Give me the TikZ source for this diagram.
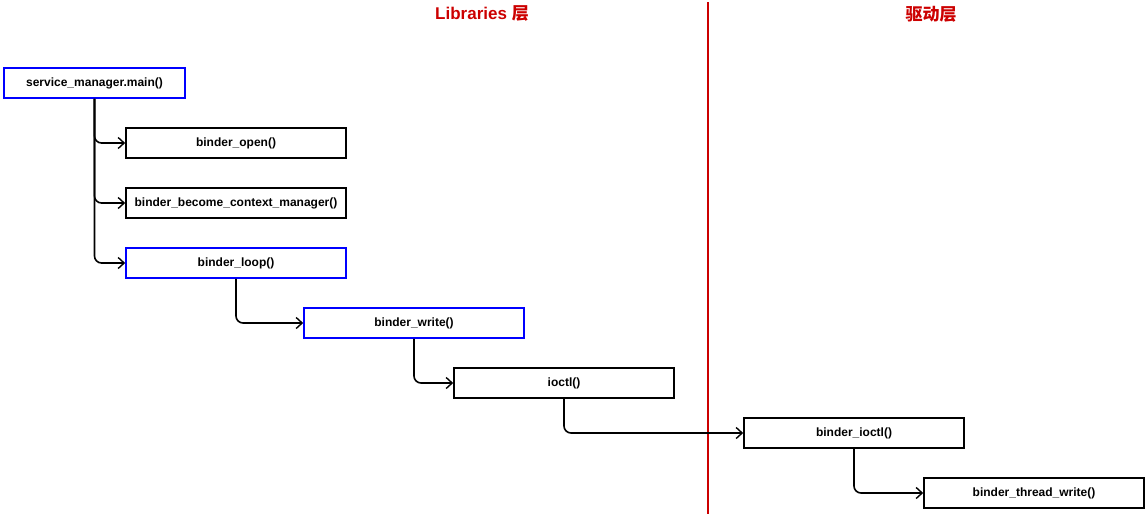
\documentclass[tikz,border=0pt]{standalone}
\usepackage{fontspec}
\setmainfont{Liberation Sans}
\newfontfamily\cjk{Noto Sans CJK SC}
\usetikzlibrary{arrows.meta}
\definecolor{redline}{RGB}{204,0,0}
\definecolor{bluebox}{RGB}{0,0,255}
\begin{document}
\begin{tikzpicture}[x=1pt,y=-1pt,
  fn/.style={draw=black,line width=1.6pt,minimum width=220pt,minimum height=30pt,inner sep=0pt,font=\fontsize{12}{14}\selectfont\bfseries,fill=white},
  hot/.style={fn,draw=bluebox},
  arr/.style={draw=black,line width=1.6pt,rounded corners=7pt,-{Straight Barb[length=6pt,width=11pt,line width=1.4pt]}},
  title/.style={text=redline,font=\fontsize{17}{20}\selectfont\bfseries}]
\useasboundingbox (0,0) rectangle (1148,514);
\draw[redline,line width=1.6pt] (708,2) -- (708,514);
\node[title] (tlib) at (482,13) {Libraries {\cjk 层}};
\node[title] (tdrv) at (931,14) {\cjk 驱动层};
\node[hot,minimum width=181pt] (main) at (94.5,83) {service\_manager.main()};
\node[fn] (open) at (236,143) {binder\_open()};
\node[fn] (become) at (236,203) {binder\_become\_context\_manager()};
\node[hot] (loop) at (236,263) {binder\_loop()};
\node[hot] (write) at (414,323) {binder\_write()};
\node[fn] (ioctl) at (564,383) {ioctl()};
\node[fn] (bioctl) at (854,433) {binder\_ioctl()};
\node[fn] (btw) at (1034,493) {binder\_thread\_write()};
\draw[arr] (main.south) |- (open.west);
\draw[arr] (main.south) |- (become.west);
\draw[arr] (main.south) |- (loop.west);
\draw[arr] (loop.south) |- (write.west);
\draw[arr] (write.south) |- (ioctl.west);
\draw[arr] (ioctl.south) |- (bioctl.west);
\draw[arr] (bioctl.south) |- (btw.west);
\end{tikzpicture}
\end{document}
